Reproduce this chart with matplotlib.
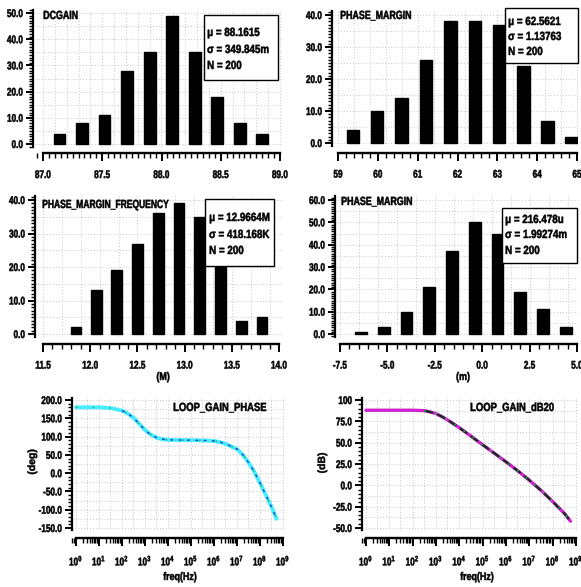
import numpy as np
import matplotlib
matplotlib.use("Agg")
import matplotlib.pyplot as plt
from matplotlib.patches import Rectangle
from matplotlib.patheffects import AbstractPathEffect
from matplotlib.transforms import Affine2D
from matplotlib.ticker import MultipleLocator, FixedLocator, LogLocator, NullFormatter, FormatStrFormatter

plt.rcParams['font.family'] = ['Liberation Sans', 'DejaVu Sans']
plt.rcParams['font.weight'] = 'bold'
plt.rcParams['mathtext.default'] = 'regular'

# ---- histogram data (bin centers, counts) ----
dcgain_x = [87.14, 87.33, 87.52, 87.71, 87.90, 88.09, 88.28, 88.47, 88.66, 88.85]
dcgain_n = [4, 8, 11, 28, 35, 49, 35, 18, 8, 4]

pm_x = [59.38, 59.98, 60.59, 61.21, 61.83, 62.44, 63.04, 63.65, 64.26, 64.86]
pm_n = [4, 10, 14, 26, 38, 38, 37, 24, 7, 2]

pmf_x = [11.85, 12.07, 12.28, 12.50, 12.72, 12.94, 13.16, 13.38, 13.60, 13.82]
pmf_n = [2, 13, 19, 27, 36, 39, 35, 20, 4, 5]

pm2_x = [-6.39, -5.19, -3.99, -2.79, -1.59, -0.39, 0.81, 2.01, 3.21, 4.41]
pm2_n = [1, 3, 10, 21, 37, 50, 45, 19, 11, 3]

stats_dcgain = ["\u03bc = 88.1615", "\u03c3 = 349.845m", "N = 200"]
stats_pm = ["\u03bc = 62.5621", "\u03c3 = 1.13763", "N = 200"]
stats_pmf = ["\u03bc = 12.9664M", "\u03c3 = 418.168K", "N = 200"]
stats_pm2 = ["\u03bc = 216.478u", "\u03c3 = 1.99274m", "N = 200"]

# ---- loop gain curves ----
phase_f = [1, 10, 32, 100, 180, 320, 560, 1e3, 1.8e3, 3.2e3, 5.6e3, 1e4, 1e5, 3.2e5,
           1e6, 1.8e6, 3.2e6, 5.6e6, 1e7, 1.8e7, 3.2e7, 5.6e7, 1e8, 1.8e8, 3.2e8, 5.3e8]
phase_deg = [180, 180, 178, 171, 163, 151, 135, 118, 105, 97, 93, 91, 90, 89.5,
             88, 85, 80, 73, 66, 50, 29, 4, -27, -60, -93, -125]

gain_f = [1, 10, 100, 320, 560, 1e3, 1.8e3, 3.2e3, 1e4, 3.2e4, 1e5, 3.2e5, 1e6,
          3.2e6, 1e7, 3.2e7, 1e8, 3.2e8, 5.8e8]
gain_db = [88, 88, 88, 87.5, 86, 84, 80.5, 76.5, 67.5, 57.5, 47.5, 37.5, 27.5,
           17, 6, -6, -19, -33, -42]

W, H = 581, 587
fig = plt.figure(figsize=(W / 100, H / 100), dpi=100)
fig.patch.set_facecolor('white')


class Squeeze(AbstractPathEffect):
    # narrow (and slightly embolden) the glyphs, reference uses a condensed heavy face
    def __init__(self, sx=0.8, anchor='left', stroke=0.35):
        super().__init__()
        self.sx = sx
        self.anchor = anchor
        self.stroke = stroke

    def draw_path(self, renderer, gc, tpath, affine, rgbFace=None):
        ext = tpath.get_extents()
        px = {'left': ext.x0, 'center': 0.5 * (ext.x0 + ext.x1), 'right': ext.x1}[self.anchor]
        x0 = affine.transform((px, 0))[0]
        sq = Affine2D().translate(-x0, 0).scale(self.sx, 1).translate(x0, 0)
        gc0 = renderer.new_gc()
        gc0.copy_properties(gc)
        if rgbFace is not None and self.stroke:
            gc0.set_linewidth(self.stroke)
            gc0.set_foreground(rgbFace)
        renderer.draw_path(gc0, tpath, affine + sq, rgbFace)
        gc0.restore()


def lims(v0, p0, v1, p1, pa, pb):
    s = (v1 - v0) / (p1 - p0)
    return v0 + (pa - p0) * s, v0 + (pb - p0) * s


def add_ax(left, top, right, bottom):
    return fig.add_axes([left / W, 1 - bottom / H, (right - left) / W, (bottom - top) / H])


def style_axes(ax, outward):
    for s in ['top', 'right']:
        ax.spines[s].set_visible(False)
    ax.spines['left'].set_linewidth(1.6)
    ax.spines['bottom'].set_linewidth(1.7)
    ax.spines['bottom'].set_position(('outward', outward))
    ax.tick_params(axis='y', which='major', length=5, width=1.4, labelsize=8, pad=2)
    ax.tick_params(axis='y', which='minor', length=3, width=1.0)
    ax.tick_params(axis='x', which='major', length=6, width=1.4, labelsize=8, pad=6)
    ax.tick_params(axis='x', which='minor', length=3.5, width=1.0)
    ax.set_facecolor('none')


def ftext(x, y, s, sx=0.8, anchor='left', **kw):
    t = fig.text(x / W, 1 - y / H, s, **kw)
    t.set_path_effects([Squeeze(sx, anchor)])
    return t


def stats_box(x0, y0, x1, y1, lines, tx, ty):
    fig.patches.append(Rectangle((x0 / W, 1 - y1 / H), (x1 - x0) / W, (y1 - y0) / H,
                                 transform=fig.transFigure, facecolor='white',
                                 edgecolor='black', lw=1.0, zorder=5))
    for i, ln in enumerate(lines):
        ftext(tx, ty[i], ln, sx=0.83, fontsize=8.5, fontweight='bold', va='center', zorder=6)


def hist_panel(box, xcal, ycal, xs, ns, xmajor, xminor, ymax, xfmt, outward):
    left, top, right, bottom = box
    ax = add_ax(left, top, right, bottom)
    ax.set_xlim(*lims(xcal[0], xcal[1], xcal[2], xcal[3], left, right))
    ax.set_ylim(*lims(0, ycal[0], ymax, ycal[1], bottom, top))
    # dotted grid
    for yv in np.arange(0, ymax + 0.1, 5):
        ax.axhline(yv, color='#c8c8c8', ls=(0, (1, 2)), lw=0.7, zorder=0)
    for xv in np.arange(xcal[0], xcal[2] + 1e-9, xminor * 2):
        ax.axvline(xv, color='#c8c8c8', ls=(0, (1, 2)), lw=0.7, zorder=0)
    w = np.diff(xs).mean() * 0.52
    ax.bar(xs, ns, width=w, color='black', edgecolor='black', zorder=3)
    style_axes(ax, outward)
    ax.spines['bottom'].set_bounds(xcal[0], xcal[2])
    ax.xaxis.set_major_locator(MultipleLocator(xmajor))
    ax.xaxis.set_minor_locator(MultipleLocator(xminor))
    ax.xaxis.set_major_formatter(FormatStrFormatter(xfmt))
    ax.yaxis.set_major_locator(MultipleLocator(10))
    ax.yaxis.set_minor_locator(MultipleLocator(1))
    ax.yaxis.set_major_formatter(FormatStrFormatter('%.1f'))
    return ax


axes = []
# DCGAIN
axes.append(hist_panel((33, 10, 282, 147), (87.0, 43, 89.0, 280), (144, 13), dcgain_x, dcgain_n,
                       0.5, 0.05, 50, '%.1f', 4.6))
ftext(43, 16, "DCGAIN", sx=0.75, fontsize=8.5, fontweight='bold', va='center')
stats_box(204, 15, 278, 80, stats_dcgain, 207, [33, 50, 66])

# PHASE_MARGIN (top right)
axes.append(hist_panel((332, 11, 578, 146), (59, 338, 65, 577), (143, 15), pm_x, pm_n,
                       1, 0.2, 40, '%d', 5.0))
ftext(340, 16, "PHASE_MARGIN", sx=0.75, fontsize=8.5, fontweight='bold', va='center')
stats_box(505, 8, 578, 63, stats_pm, 508, [22, 37, 52])

# PHASE_MARGIN_FREQUENCY
axes.append(hist_panel((35, 196, 282, 337), (11.5, 43, 14.0, 279), (334, 200), pmf_x, pmf_n,
                       0.5, 0.1, 40, '%.1f', 5.0))
ftext(42, 205, "PHASE_MARGIN_FREQUENCY", sx=0.72, fontsize=8.5, fontweight='bold', va='center')
stats_box(205, 199, 274, 266, stats_pmf, 209, [218, 235, 251])
ftext(163, 377, "(M)", anchor='center', fontsize=8, fontweight='bold', ha='center', va='center')

# PHASE_MARGIN (middle right)
axes.append(hist_panel((335, 196, 578, 337), (-7.5, 340, 5.0, 577), (334, 200), pm2_x, pm2_n,
                       2.5, 0.5, 60, '%.1f', 5.0))
ftext(341, 202, "PHASE_MARGIN", sx=0.75, fontsize=8.5, fontweight='bold', va='center')
stats_box(502, 208, 577, 263, stats_pm2, 505, [220, 235, 251])
ftext(463, 377, "(m)", anchor='center', fontsize=8, fontweight='bold', ha='center', va='center')


def bode_panel(box, xcal, ycal, ticks, labels, yminor, hgrid):
    left, top, right, bottom = box
    ax = add_ax(left, top, right, bottom)
    lx = lims(0, xcal[0], 9, xcal[1], left, right)
    ax.set_xscale('log')
    ax.set_xlim(10 ** lx[0], 10 ** lx[1])
    ax.set_ylim(*lims(ycal[0], ycal[1], ycal[2], ycal[3], bottom, top))
    for yv in np.arange(ycal[2], ycal[0] + 0.1, hgrid):
        ax.axhline(yv, color='#c8c8c8', ls=(0, (1, 2)), lw=0.7, zorder=0)
    for k in range(10):
        for m in (1, 3):
            if 10 ** k * m <= 1e9:
                ax.axvline(m * 10 ** k, color='#c8c8c8', ls=(0, (1, 2)), lw=0.7, zorder=0)
    style_axes(ax, 6)
    ax.spines['bottom'].set_bounds(1, 1e9)
    ax.xaxis.set_major_locator(FixedLocator([10.0 ** k for k in range(10)]))
    ax.set_xticklabels(['$10^{%d}$' % k for k in range(10)])
    ax.xaxis.set_minor_locator(LogLocator(base=10, subs=np.arange(2, 10), numticks=20))
    ax.xaxis.set_minor_formatter(NullFormatter())
    ax.tick_params(axis='x', which='major', pad=5)
    ax.yaxis.set_major_locator(FixedLocator(ticks))
    ax.set_yticklabels(labels)
    ax.yaxis.set_minor_locator(MultipleLocator(yminor))
    return ax


ax = bode_panel((72, 398, 285, 530), (76, 283), (200, 400, -150, 528),
                [200, 150, 100, 50, 0, -50, -100, -150],
                ['200.0', '150.0', '100.0', '50.0', '0.0', '-50.0', '-100.0', '-150.0'], 10, 25)
ax.plot(phase_f, phase_deg, color='#46ecff', lw=2.8, zorder=3, solid_capstyle='round')
ax.plot(phase_f[3:], phase_deg[3:], color='#1a3cc8', lw=1.0, dashes=(2, 4), zorder=4)
ax.plot(phase_f, phase_deg, color='#22b040', lw=1.0, dashes=(1, 11), zorder=5)
axes.append(ax)
ftext(173, 408, "LOOP_GAIN_PHASE", fontsize=8.5, fontweight='bold', va='center')
ftext(180, 577, "freq(Hz)", anchor='center', fontsize=8, fontweight='bold', ha='center', va='center')
ftext(32, 462, "(deg)", sx=1.0, fontsize=7.5, fontweight='bold', ha='center', va='center', rotation=90)

ax = bode_panel((362, 398, 578, 530), (366, 576), (100, 400, -50, 528),
                [100, 75, 50, 25, 0, -25, -50],
                ['100', '75.0', '50.0', '25.0', '0.0', '-25.0', '-50.0'], 5, 12.5)
ax.plot(gain_f, gain_db, color='#d020d0', lw=2.4, zorder=3, solid_capstyle='round')
ax.plot(gain_f[3:], gain_db[3:], color='#103018', lw=1.6, dashes=(4, 2), zorder=4)
ax.plot(gain_f[3:], gain_db[3:], color='#30d060', lw=1.0, dashes=(1, 7), zorder=5)
axes.append(ax)
ftext(470, 408, "LOOP_GAIN_dB20", fontsize=8.5, fontweight='bold', va='center')
ftext(477, 577, "freq(Hz)", anchor='center', fontsize=8, fontweight='bold', ha='center', va='center')
ftext(322, 463, "(dB)", sx=1.0, fontsize=7.5, fontweight='bold', ha='center', va='center', rotation=90)

# squeeze tick labels too
fig.canvas.draw()
for a in axes:
    for lbl in a.get_xticklabels():
        lbl.set_path_effects([Squeeze(0.74, 'center')])
    for lbl in a.get_yticklabels():
        lbl.set_path_effects([Squeeze(0.74, 'right')])

fig.savefig("out.png", dpi=100, facecolor='white')
